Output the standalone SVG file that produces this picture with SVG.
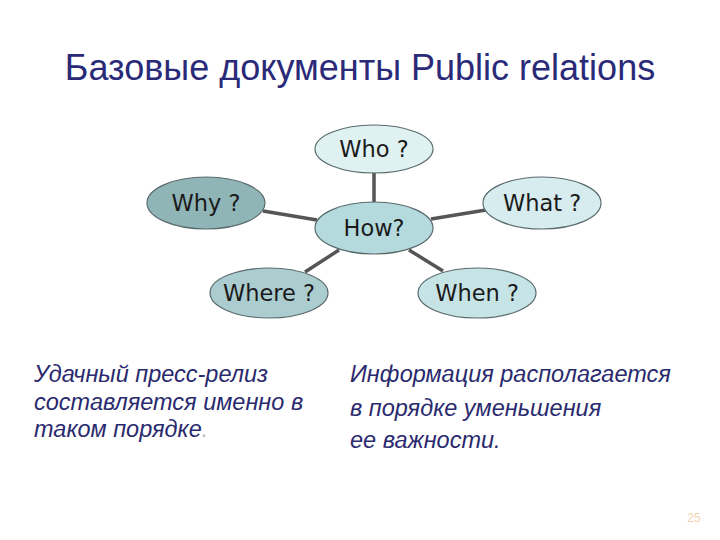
<svg xmlns="http://www.w3.org/2000/svg" width="720" height="540" viewBox="0 0 720 540">
<style>
.node ellipse{stroke:#5a6a6c;stroke-width:1.2}
.node text{font-family:"DejaVu Sans",Verdana,sans-serif;font-size:22.5px;fill:#1a1a1a;text-anchor:middle}
.conn line{stroke:#555;stroke-width:3.5}
.body{font-family:"Liberation Sans",Arial,sans-serif;font-style:italic;font-size:23.5px;fill:#2a2a6e}
</style>
<rect width="720" height="540" fill="#ffffff"/>
<text x="360" y="80" text-anchor="middle" font-family="'Liberation Sans',Arial,sans-serif" font-size="36" fill="#2a2a78">Базовые документы Public relations</text>
<g class="conn">
<line x1="374" y1="172" x2="374" y2="203"/>
<line x1="263" y1="211" x2="317" y2="220"/>
<line x1="431" y1="219" x2="486" y2="210"/>
<line x1="339" y1="250" x2="305" y2="272"/>
<line x1="409" y1="250" x2="443" y2="271"/>
</g>
<g id="who" class="node"><ellipse cx="374" cy="149" rx="59" ry="24" fill="#e0f1f2"/><text x="374" y="157">Who ?</text></g>
<g id="why" class="node"><ellipse cx="206" cy="203" rx="59" ry="26" fill="#8fb5b7"/><text x="206" y="211">Why ?</text></g>
<g id="how" class="node"><ellipse cx="374" cy="228" rx="59" ry="26" fill="#b5dadd"/><text x="374" y="236">How?</text></g>
<g id="what" class="node"><ellipse cx="542" cy="203" rx="59" ry="26" fill="#d6ecee"/><text x="542" y="211">What ?</text></g>
<g id="where" class="node"><ellipse cx="269" cy="293" rx="59" ry="25" fill="#abcdd0"/><text x="269" y="301">Where ?</text></g>
<g id="when" class="node"><ellipse cx="477" cy="293" rx="59" ry="25" fill="#c6e3e6"/><text x="477" y="301">When ?</text></g>
<text class="body" x="34" y="382">Удачный пресс-релиз</text>
<text class="body" x="34" y="410">составляется именно в</text>
<text class="body" x="34" y="437">таком порядке<tspan fill="#bbbbbb">.</tspan></text>
<text class="body" x="350" y="382">Информация располагается</text>
<text class="body" x="350" y="416">в порядке уменьшения</text>
<text class="body" x="350" y="448">ее важности.</text>
<text x="694" y="522" text-anchor="middle" font-family="'Liberation Sans',Arial,sans-serif" font-size="12" fill="#f3d2ae">25</text>
</svg>
